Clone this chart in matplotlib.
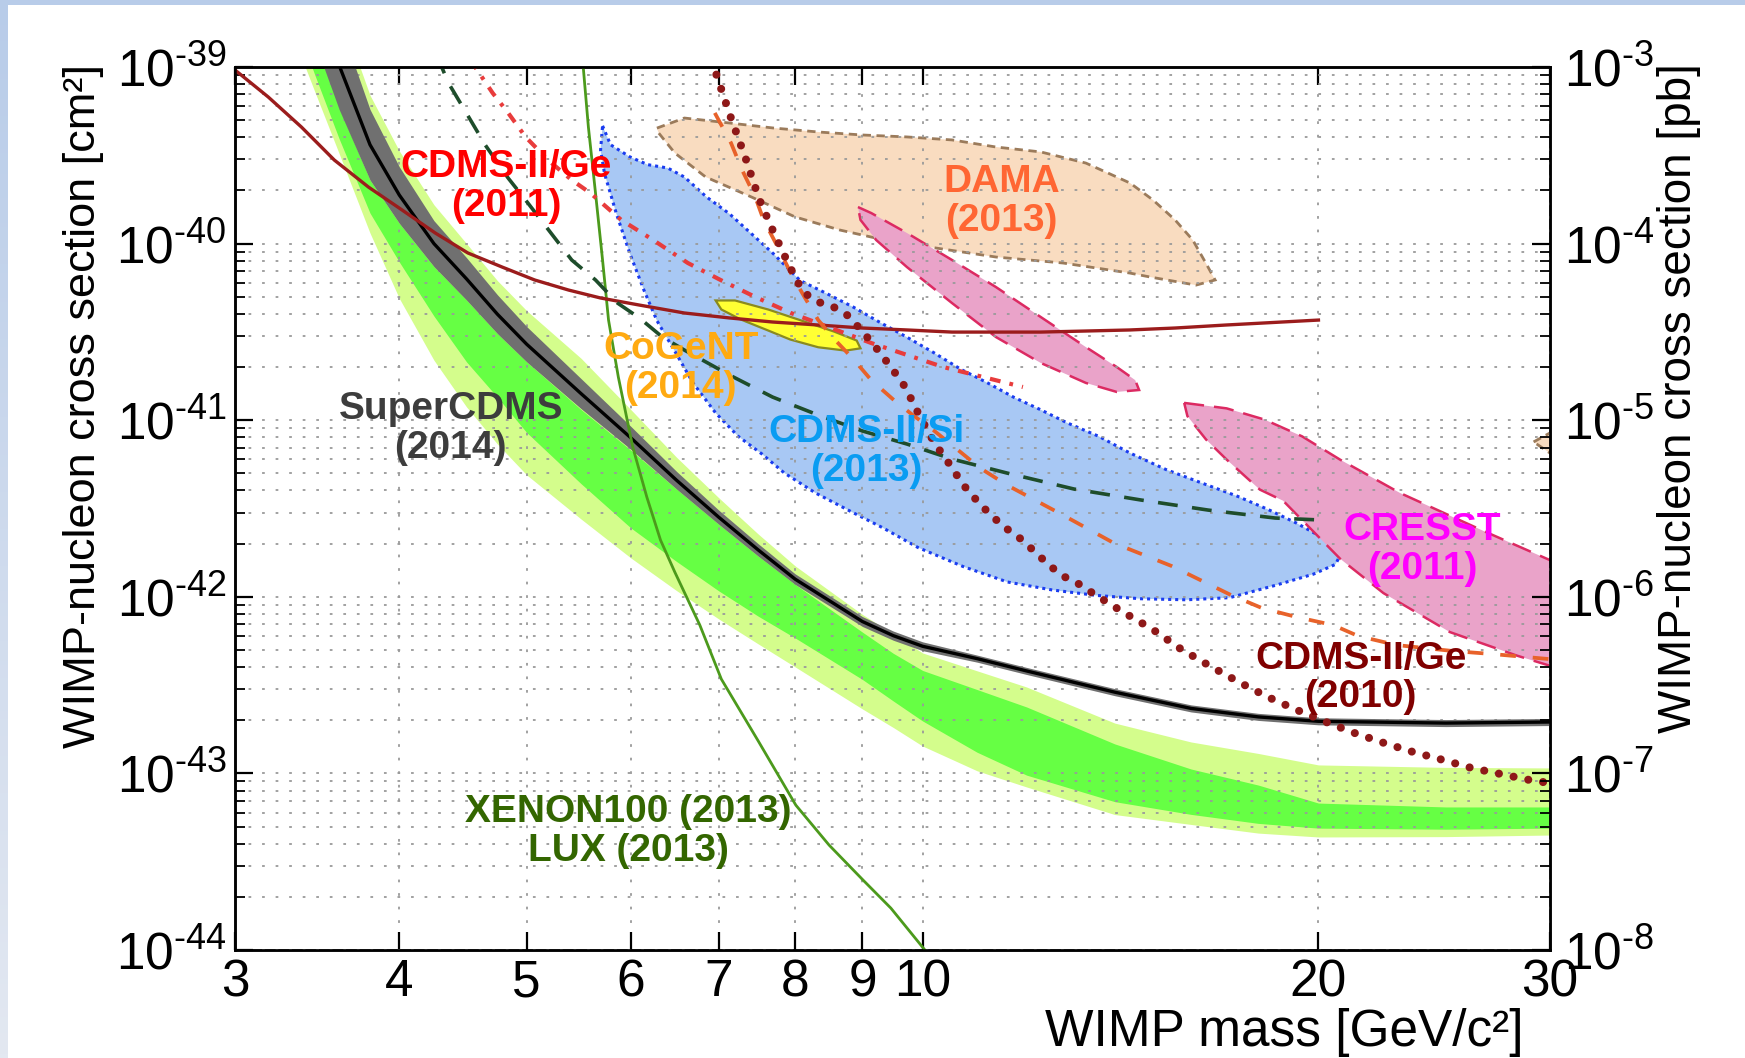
import numpy as np
import matplotlib
matplotlib.use("Agg")
import matplotlib.pyplot as plt
from matplotlib.patches import Rectangle
from matplotlib.colors import LinearSegmentedColormap
from matplotlib.ticker import FixedLocator, LogLocator, NullLocator, NullFormatter

plt.rcParams['font.family'] = ['Liberation Sans', 'DejaVu Sans']
plt.rcParams['mathtext.fontset'] = 'custom'
plt.rcParams['mathtext.rm'] = 'Liberation Sans'
plt.rcParams['mathtext.it'] = 'Liberation Sans:italic'
plt.rcParams['mathtext.bf'] = 'Liberation Sans:bold'

# ---------------- data (WIMP mass in GeV/c^2, log10 of cross section in cm^2) ----------------
band_mass = [3.3, 3.45, 3.6, 3.8, 4.0, 4.25, 4.5, 4.75, 5.0, 5.5, 6.0, 6.5, 7.0, 7.5, 8.0,
             9.0, 9.5, 10, 11, 12, 14, 16, 18, 20, 25, 30]
scdms_log = [-38.30, -38.56, -38.99, -39.44, -39.725, -40.00, -40.20, -40.40, -40.57, -40.85,
             -41.10, -41.34, -41.55, -41.735, -41.90, -42.14, -42.22, -42.28, -42.35, -42.42,
             -42.54, -42.632, -42.68, -42.705, -42.715, -42.709]
scdms_halfwidth = [0.30, 0.30, 0.25, 0.20, 0.16, 0.13, 0.12, 0.11, 0.10, 0.085, 0.065, 0.05,
                   0.04, 0.035, 0.03, 0.028, 0.026, 0.025, 0.02, 0.02, 0.02, 0.02, 0.02, 0.02,
                   0.02, 0.02]
outer_hi = [-37.95, -38.21, -38.67, -39.16, -39.475, -39.78, -40.00, -40.21, -40.38, -40.65,
            -40.94, -41.21, -41.44, -41.645, -41.825, -42.10, -42.21, -42.318, -42.419, -42.511,
            -42.715, -42.822, -42.887, -42.952, -42.966, -42.969]
outer_lo = [-38.77, -39.14, -39.49, -39.94, -40.31, -40.66, -40.925, -41.135, -41.31, -41.56,
            -41.78, -41.965, -42.126, -42.267, -42.397, -42.635, -42.74, -42.845, -42.985,
            -43.077, -43.233, -43.289, -43.338, -43.36, -43.358, -43.349]
inner_hi = [-38.55, -38.81, -39.23, -39.64, -39.885, -40.13, -40.32, -40.51, -40.67, -40.94,
            -41.17, -41.39, -41.59, -41.77, -41.93, -42.20, -42.32, -42.417, -42.525, -42.624,
            -42.833, -42.975, -43.066, -43.168, -43.19, -43.19]
inner_lo = [-38.65, -39.045, -39.406, -39.827, -40.104, -40.41, -40.67, -40.87, -41.07, -41.36,
            -41.61, -41.80, -41.967, -42.11, -42.233, -42.468, -42.59, -42.703, -42.88, -43.01,
            -43.16, -43.232, -43.283, -43.31, -43.316, -43.31]

darkred_m = [3.0, 3.18, 3.37, 3.57, 3.79, 4.02, 4.26, 4.51, 4.79, 5.07, 5.38, 5.69, 6.09, 6.59,
             7.13, 7.69, 8.33, 9.0, 9.73, 10.53, 11.37, 12.30, 13.31, 14.38, 15.56, 17.01, 20.0]
darkred_log = [-39.017, -39.170, -39.340, -39.527, -39.680, -39.810, -39.940, -40.053, -40.133,
               -40.206, -40.263, -40.308, -40.348, -40.393, -40.421, -40.444, -40.461, -40.478,
               -40.489, -40.501, -40.501, -40.501, -40.495, -40.489, -40.478, -40.461, -40.433]

dgreen_m = [4.27, 4.36, 4.54, 4.65, 4.84, 5.01, 5.23, 5.41, 5.64, 5.86, 6.09, 6.34, 6.59, 7.13,
            7.69, 8.33, 9.0, 9.73, 10.53, 11.59, 13.04, 14.66, 16.49, 18.54, 20.06]
dgreen_log = [-38.932, -39.091, -39.311, -39.442, -39.629, -39.770, -39.951, -40.093, -40.206,
              -40.336, -40.421, -40.529, -40.603, -40.744, -40.869, -40.971, -41.061, -41.135,
              -41.220, -41.299, -41.390, -41.452, -41.509, -41.554, -41.565]

ge2011_m = [4.53, 4.71, 4.84, 4.99, 5.19, 5.41, 5.59, 5.90, 6.24, 6.63, 7.02, 7.46, 7.94, 8.52,
            9.14, 10.37, 11.92]
ge2011_log = [-38.960, -39.147, -39.260, -39.396, -39.527, -39.640, -39.714, -39.866, -39.980,
              -40.110, -40.206, -40.302, -40.393, -40.478, -40.563, -40.699, -40.812]

orange_m = [6.95, 7.15, 7.29, 7.46, 7.57, 7.76, 7.94, 8.14, 8.33, 8.58, 8.87, 9.14, 9.51, 9.83,
            10.19, 10.64, 11.06, 11.59, 12.74, 13.98, 15.47, 17.16, 18.12, 19.26, 20.52, 21.44,
            22.92, 25.31, 27.11, 30.0]
orange_log = [-39.260, -39.430, -39.583, -39.736, -39.866, -40.019, -40.167, -40.308, -40.433,
              -40.546, -40.659, -40.773, -40.886, -40.971, -41.056, -41.169, -41.271, -41.367,
              -41.531, -41.696, -41.826, -41.990, -42.064, -42.115, -42.160, -42.222, -42.273,
              -42.307, -42.324, -42.353]

ge2010_m = [6.94, 6.95, 7.15, 7.33, 7.51, 7.72, 7.92, 8.11, 8.33, 8.53, 8.76, 8.98, 9.22, 9.46,
            9.70, 9.94, 10.20, 10.48, 10.74, 11.02, 11.29, 11.57, 11.88, 12.20, 12.50, 12.83,
            13.15, 13.50, 14.20, 14.95, 15.72, 16.54, 17.40, 18.31, 19.26, 20.27, 21.32, 22.44,
            23.61, 24.88, 26.17, 27.54, 28.97, 30.0]
ge2010_log = [-38.960, -39.017, -39.289, -39.510, -39.747, -39.951, -40.127, -40.274, -40.331,
              -40.353, -40.404, -40.489, -40.591, -40.699, -40.812, -40.971, -41.124, -41.248,
              -41.367, -41.463, -41.543, -41.611, -41.673, -41.752, -41.826, -41.888, -41.928,
              -41.984, -42.086, -42.183, -42.296, -42.392, -42.483, -42.568, -42.641, -42.709,
              -42.772, -42.828, -42.879, -42.924, -42.970, -43.004, -43.038, -43.055]

xenon_m = [5.51, 5.52, 5.57, 5.64, 5.71, 5.77, 5.87, 5.94, 6.02, 6.17, 6.32, 6.48, 6.77, 7.03,
           7.50, 8.01, 8.49, 9.01, 9.46, 10.04, 10.2]
xenon_log = [-38.932, -39.000, -39.340, -39.714, -40.093, -40.433, -40.756, -40.942, -41.152,
             -41.435, -41.679, -41.860, -42.160, -42.466, -42.817, -43.180, -43.406, -43.604,
             -43.763, -44.00, -44.08]

si_m = [5.71, 5.79, 5.99, 6.18, 6.40, 6.59, 6.85, 7.13, 7.41, 7.70, 8.07, 8.46, 8.86, 9.29, 9.73,
        10.20, 10.70, 11.20, 11.73, 12.29, 12.88, 13.61, 14.37, 15.32, 16.31, 17.36, 18.33, 19.25,
        20.21, 20.81, 20.61, 19.82, 18.55, 17.12, 15.87, 14.65, 13.55, 12.54, 11.60, 10.73, 9.92,
        9.32, 8.83, 8.29, 7.85, 7.55, 7.24, 6.96, 6.69, 6.49, 6.28, 6.14, 5.99, 5.85, 5.73, 5.69]
si_log = [-39.333, -39.440, -39.509, -39.553, -39.572, -39.623, -39.736, -39.831, -39.944, -40.057,
          -40.209, -40.284, -40.360, -40.448, -40.530, -40.618, -40.713, -40.788, -40.870, -40.940,
          -41.015, -41.091, -41.185, -41.280, -41.356, -41.431, -41.507, -41.583, -41.671, -41.753,
          -41.816, -41.872, -41.935, -42.005, -42.017, -42.011, -41.992, -41.961, -41.916, -41.828,
          -41.721, -41.608, -41.519, -41.412, -41.299, -41.192, -41.091, -40.959, -40.789, -40.618,
          -40.436, -40.265, -40.057, -39.831, -39.604, -39.471]

dama_m = [6.28, 6.59, 7.13, 7.69, 8.33, 9.00, 9.73, 10.53, 11.37, 12.30, 13.31, 14.38, 14.97, 15.56,
          16.05, 16.42, 16.69, 16.14, 14.89, 14.38, 12.79, 11.37, 10.11, 9.36, 8.65, 8.00, 7.41,
          6.84, 6.48, 6.30]
dama_log = [-39.346, -39.289, -39.317, -39.345, -39.368, -39.385, -39.396, -39.413, -39.453, -39.481,
            -39.544, -39.657, -39.753, -39.866, -39.980, -40.110, -40.206, -40.235, -40.189, -40.167,
            -40.110, -40.076, -40.019, -39.980, -39.923, -39.849, -39.736, -39.623, -39.487, -39.374]

dama_hi_m = [29.15, 31.6, 31.6]
dama_hi_log = [-41.123, -40.98, -41.30]

pink_m = [8.93, 9.14, 9.73, 10.53, 11.37, 12.30, 13.31, 14.05, 14.51, 14.61, 14.05, 13.31, 12.30,
          11.37, 10.53, 9.73, 9.22, 8.97]
pink_log = [-39.793, -39.827, -39.940, -40.093, -40.246, -40.416, -40.586, -40.699, -40.773, -40.829,
            -40.840, -40.789, -40.676, -40.529, -40.337, -40.133, -39.980, -39.866]

cresst_m = [15.81, 17.03, 18.19, 19.43, 20.77, 23.07, 26.70, 29.95, 31.64, 31.64, 29.95, 28.31,
            25.18, 22.41, 20.77, 18.80, 18.05, 17.03, 16.43, 15.90]
cresst_log = [-40.902, -40.933, -40.996, -41.091, -41.223, -41.412, -41.627, -41.790, -41.866,
              -42.465, -42.389, -42.333, -42.200, -41.979, -41.784, -41.456, -41.393, -41.223,
              -41.110, -40.977]

cogent_m = [6.96, 7.20, 7.63, 8.09, 8.57, 8.91, 8.97, 8.74, 8.33, 7.93, 7.63, 7.27, 7.03]
cogent_log = [-40.322, -40.322, -40.373, -40.436, -40.499, -40.549, -40.593, -40.606, -40.587,
              -40.543, -40.492, -40.429, -40.373]

x_ticks = [3, 4, 5, 6, 7, 8, 9, 10, 20, 30]
x_ticklabels = ['3', '4', '5', '6', '7', '8', '9', '10', '20', '30']
cm2_exponents = [-44, -43, -42, -41, -40, -39]
pb_exponents = [-8, -7, -6, -5, -4, -3]

labels = ['CDMS-II/Ge\n(2011)', 'DAMA\n(2013)', 'CoGeNT\n(2014)', 'SuperCDMS\n(2014)',
          'CDMS-II/Si\n(2013)', 'CRESST\n(2011)', 'CDMS-II/Ge\n(2010)',
          'XENON100 (2013)\nLUX (2013)']
label_colors = ['#ff0000', '#ff6633', '#ffaa11', '#3d3d3d', '#0a9cf2', '#ff00ff', '#800000',
                '#336600']
label_pos = [(0.206, 0.865), (0.583, 0.848), (0.339, 0.659), (0.164, 0.591), (0.480, 0.565),
             (0.903, 0.454), (0.856, 0.308), (0.299, 0.134)]


def sig(a):
    return 10.0 ** np.asarray(a, dtype=float)


def exp_label(e):
    return r'$\mathregular{10^{\text{-}%d}}$' % abs(e)


fig = plt.figure(figsize=(17.45, 10.58), dpi=100)
fig.patch.set_facecolor('white')

# decorative slide border (left gradient strip + top strip)
bg = fig.add_axes([0, 0, 8 / 1745, 1], zorder=-5)
grad = np.linspace(0, 1, 256).reshape(-1, 1)
bg.imshow(grad, aspect='auto', origin='upper', extent=[0, 1, 0, 1],
          cmap=LinearSegmentedColormap.from_list('strip', ['#b8cce9', '#e3e8f1']))
bg.axis('off')
fig.patches.append(Rectangle((0, 1 - 5 / 1058), 1, 5 / 1058, transform=fig.transFigure,
                             facecolor='#b8cce9', edgecolor='none', zorder=-4))

ax = fig.add_axes([235 / 1745, 1 - 950 / 1058, 1315 / 1745, 883 / 1058])
ax.set_xscale('log')
ax.set_yscale('log')

m = np.array(band_mass)
sc = np.array(scdms_log)
hw = np.array(scdms_halfwidth)

# SuperCDMS expected-sensitivity bands
ax.fill_between(m, sig(outer_lo), sig(outer_hi), color='#d4fd8c', lw=0, zorder=1.0)
ax.fill_between(m, sig(inner_lo), sig(inner_hi), color='#66ff44', lw=0, zorder=1.1)

# signal regions
ax.fill(dama_m, sig(dama_log), facecolor='#f9dcc0', edgecolor='#9b7b5b', lw=2.0,
        linestyle=(0, (3, 2)), zorder=1.2)
ax.fill(dama_hi_m, sig(dama_hi_log), facecolor='#f9dcc0', edgecolor='#9b7b5b', lw=2.0,
        linestyle=(0, (3, 2)), zorder=1.2)
ax.fill(si_m, sig(si_log), facecolor='#a8c8f4', edgecolor='#1a3cf0', lw=2.2,
        linestyle=(0, (1, 1.3)), zorder=1.25)
ax.fill(pink_m, sig(pink_log), facecolor='#eaa3c9', edgecolor='#dc2a62', lw=1.8,
        linestyle=(0, (8, 4)), zorder=1.3)
ax.fill(cresst_m, sig(cresst_log), facecolor='#eaa3c9', edgecolor='#dc2a62', lw=1.8,
        linestyle=(0, (8, 4)), zorder=1.3)
ax.fill(cogent_m, sig(cogent_log), facecolor='#ffff33', edgecolor='#8a8a1e', lw=1.6, zorder=1.5)

# SuperCDMS limit with band
ax.fill_between(m, sig(sc - hw), sig(sc + hw), color='#707070', lw=0, zorder=3.0)
ax.plot(m, sig(sc), color='black', lw=2.4, zorder=3.1)

# other limits
ax.plot(xenon_m, sig(xenon_log), color='#4c9a1c', lw=2.0, zorder=3.2)
ax.plot(darkred_m, sig(darkred_log), color='#9b1c1c', lw=2.4, zorder=3.3)
ax.plot(dgreen_m, sig(dgreen_log), color='#1e4d2b', lw=2.6, linestyle=(0, (5.5, 4)), zorder=3.3)
ax.plot(ge2011_m, sig(ge2011_log), color='#e83c3c', lw=3.0, linestyle=(0, (2.6, 2.2, 0.9, 2.2)),
        zorder=3.3)
ax.plot(orange_m, sig(orange_log), color='#e8622a', lw=2.7, linestyle=(0, (4.2, 4.5)), zorder=3.3)
ax.plot(ge2010_m, sig(ge2010_log), color='#8e1818', lw=5.8, linestyle=(0, (0.01, 1.85)),
        dash_capstyle='round', zorder=3.4)

ax.set_xlim(3, 30)
ax.set_ylim(1e-44, 1e-39)

# ticks / grid
ax.set_axisbelow(False)
ax.xaxis.set_major_locator(FixedLocator(x_ticks))
ax.xaxis.set_minor_locator(NullLocator())
ax.set_xticklabels(x_ticklabels)
ax.yaxis.set_major_locator(FixedLocator([10.0 ** e for e in cm2_exponents]))
ax.set_yticklabels([exp_label(e) for e in cm2_exponents])
ax.yaxis.set_minor_locator(LogLocator(base=10, subs=np.arange(2, 10), numticks=100))
ax.yaxis.set_minor_formatter(NullFormatter())
grid_style = dict(color='#9a9a9a', linestyle=(0, (1.5, 6)), linewidth=1.3)
ax.grid(True, which='both', axis='y', **grid_style)
ax.grid(True, which='major', axis='x', **grid_style)
ax.tick_params(axis='both', which='both', direction='in', top=True, bottom=True, left=True,
               right=False, labelsize=37, colors='black')
ax.tick_params(which='major', length=13, width=1.6)
ax.tick_params(which='minor', length=7, width=1.3)
ax.tick_params(axis='x', pad=6)
ax.tick_params(axis='y', pad=6)
for s in ax.spines.values():
    s.set_linewidth(1.8)

ax.set_xlabel('WIMP mass [GeV/c²]', fontsize=37)
ax.xaxis.set_label_coords(0.798, -0.066)
ax.set_ylabel('WIMP-nucleon cross section [cm²]', fontsize=32.5)
ax.yaxis.set_label_coords(-0.100, 0.616)

for txt, col, (px, py) in zip(labels, label_colors, label_pos):
    ax.text(px, py, txt, transform=ax.transAxes, ha='center', va='center', fontsize=28,
            fontweight='bold', color=col, linespacing=1.1, zorder=6)

# right axis in pb
ax2 = ax.twinx()
ax2.set_yscale('log')
ax2.set_ylim(1e-8, 1e-3)
ax2.yaxis.set_major_locator(FixedLocator([10.0 ** e for e in pb_exponents]))
ax2.set_yticklabels([exp_label(e) for e in pb_exponents])
ax2.yaxis.set_minor_locator(LogLocator(base=10, subs=np.arange(2, 10), numticks=100))
ax2.yaxis.set_minor_formatter(NullFormatter())
ax2.tick_params(which='both', direction='in', labelsize=37, pad=10)
ax2.tick_params(which='major', length=13, width=1.6)
ax2.tick_params(which='minor', length=7, width=1.3)
for s in ax2.spines.values():
    s.set_linewidth(1.8)
ax2.set_ylabel('WIMP-nucleon cross section [pb]', fontsize=33)
ax2.yaxis.set_label_coords(1.081, 0.625)

fig.savefig('out.png', dpi=100)
